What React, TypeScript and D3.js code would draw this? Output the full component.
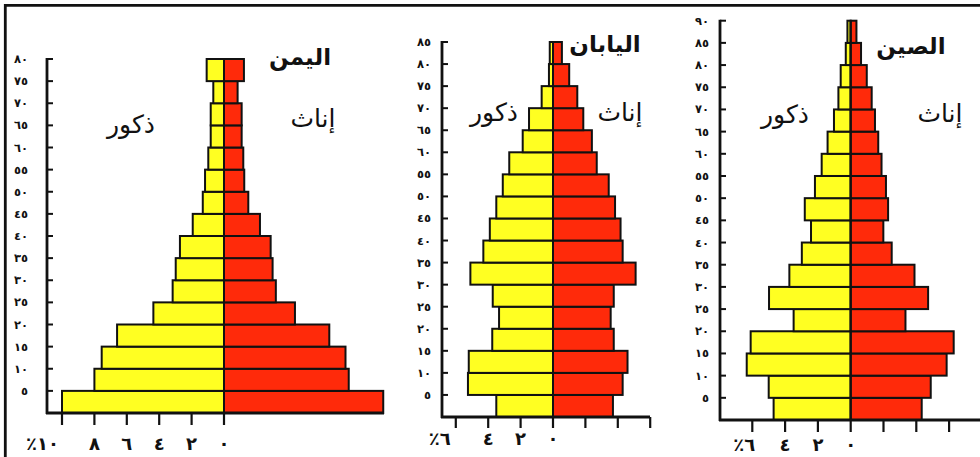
import React from 'react';
import * as d3 from 'd3';

// ---------- DATA ----------
const yemenAges = [0, 5, 10, 15, 20, 25, 30, 35, 40, 45, 50, 55, 60, 65, 70, 75];
const yemenMale = [10.0, 8.0, 7.55, 6.6, 4.36, 3.17, 2.98, 2.72, 1.93, 1.31, 1.17, 0.97, 0.82, 0.82, 0.66, 1.07];
const yemenFemale = [9.83, 7.7, 7.5, 6.5, 4.38, 3.2, 3.0, 2.88, 2.22, 1.5, 1.25, 1.19, 1.09, 1.09, 0.84, 1.23];

const japanAges = [0, 5, 10, 15, 20, 25, 30, 35, 40, 45, 50, 55, 60, 65, 70, 75, 80];
const japanMale = [3.5, 5.25, 5.2, 3.75, 3.33, 3.72, 5.1, 4.3, 3.9, 3.5, 3.1, 2.7, 1.87, 1.48, 0.7, 0.25, 0.2];
const japanFemale = [3.7, 4.3, 4.6, 3.75, 3.56, 3.75, 5.1, 4.3, 4.17, 3.83, 3.44, 2.7, 2.4, 1.87, 1.5, 1.0, 0.55];

const chinaAges = [0, 5, 10, 15, 20, 25, 30, 35, 40, 45, 50, 55, 60, 65, 70, 75, 80, 85];
const chinaMale = [4.7, 5.0, 6.34, 6.1, 3.48, 4.98, 3.74, 2.98, 2.42, 2.8, 2.18, 1.77, 1.41, 1.02, 0.75, 0.61, 0.3, 0.2];
const chinaFemale = [4.33, 4.88, 5.85, 6.28, 3.34, 4.72, 3.89, 2.5, 1.99, 2.28, 2.15, 1.88, 1.68, 1.48, 1.28, 0.98, 0.63, 0.35];

const ageTickValues = [5, 10, 15, 20, 25, 30, 35, 40, 45, 50, 55, 60, 65, 70, 75, 80, 85, 90];
const ageTickLabels = ['٥', '١٠', '١٥', '٢٠', '٢٥', '٣٠', '٣٥', '٤٠', '٤٥', '٥٠', '٥٥', '٦٠', '٦٥', '٧٠', '٧٥', '٨٠', '٨٥', '٩٠'];

const yemenXTicks = [10, 8, 6, 4, 2, 0];
const yemenXLabels = ['٪١٠', '٨', '٦', '٤', '٢', '٠'];
const smallXTicks = [6, 4, 2, 0];
const smallXLabels = ['٪٦', '٤', '٢', '٠'];
const japanRightTicks = [2, 4, 6];
const chinaRightTicks = [2, 4, 6, 8];

const titles = ['اليمن', 'اليابان', 'الصين'];
const maleLabel = 'ذكور';
const femaleLabel = 'إناث';

// ---------- STYLE ----------
const YELLOW = '#FFFF22';
const RED = '#FF2A0A';
const FONT = 'DejaVu Sans, sans-serif';

type Layout = {
  axisX: number;
  yBottom: number;
  yTop: number;
  ageTop: number;
  cx: number;
  ppp: number;
  xAxisEnd: number;
  yLabelGap: number;
  xLabelY: number;
  pctDx: number;
  tickLen: number;
  title: [number, number];
  female: [number, number];
  male: [number, number];
};

type Props = {
  ages: number[];
  male: number[];
  female: number[];
  xTicks: number[];
  xLabels: string[];
  rightTicks: number[];
  title: string;
  L: Layout;
};

function Pyramid({ ages, male, female, xTicks, xLabels, rightTicks, title, L }: Props) {
  const y = d3.scaleLinear().domain([0, L.ageTop]).range([L.yBottom, L.yTop]);
  const xM = d3.scaleLinear().domain([0, 10]).range([L.cx, L.cx - 10 * L.ppp]);
  const xF = d3.scaleLinear().domain([0, 10]).range([L.cx, L.cx + 10 * L.ppp]);
  const band = 5;
  const yTicks = ageTickValues.filter((v) => v <= L.ageTop);
  const topAge = ages[ages.length - 1] + band;
  return (
    <g>
      {ages.map((a, i) => (
        <rect key={'m' + a} x={xM(male[i])} y={y(a + band)} width={xM(0) - xM(male[i])}
          height={y(a) - y(a + band)} fill={YELLOW} stroke="#111" strokeWidth={2} />
      ))}
      {ages.map((a, i) => (
        <rect key={'f' + a} x={xF(0)} y={y(a + band)} width={xF(female[i]) - xF(0)}
          height={y(a) - y(a + band)} fill={RED} stroke="#111" strokeWidth={2} />
      ))}
      <line x1={L.cx} x2={L.cx} y1={y(topAge)} y2={L.yBottom} stroke="#111" strokeWidth={2} />
      {/* y axis */}
      <line x1={L.axisX} x2={L.axisX} y1={L.yTop - 1} y2={L.yBottom + 1} stroke="#111" strokeWidth={2.8} />
      {yTicks.map((t) => (
        <g key={'yt' + t}>
          <line x1={L.axisX} x2={L.axisX + 6} y1={y(t)} y2={y(t)} stroke="#111" strokeWidth={2} />
          <text x={L.axisX - L.yLabelGap} y={y(t) + 4} fontFamily={FONT} fontSize={11.5}
            fontWeight="bold" textAnchor="end" fill="#111">{ageTickLabels[ageTickValues.indexOf(t)]}</text>
        </g>
      ))}
      {/* x axis */}
      <line x1={L.axisX - 1} x2={L.xAxisEnd} y1={L.yBottom} y2={L.yBottom} stroke="#111" strokeWidth={2.8} />
      {xTicks.map((t, i) => (
        <g key={'xt' + t}>
          <line x1={xM(t)} x2={xM(t)} y1={L.yBottom} y2={L.yBottom + L.tickLen} stroke="#111" strokeWidth={2.2} />
          <text x={i === 0 ? xM(t) + L.pctDx : xM(t)} y={L.xLabelY} fontFamily={FONT} fontSize={18}
            fontWeight="bold" textAnchor={i === 0 ? 'end' : 'middle'} fill="#111">{xLabels[i]}</text>
        </g>
      ))}
      {rightTicks.map((t) => (
        <line key={'rt' + t} x1={xF(t)} x2={xF(t)} y1={L.yBottom} y2={L.yBottom + L.tickLen} stroke="#111" strokeWidth={2.2} />
      ))}
      <text x={L.title[0]} y={L.title[1]} fontFamily={FONT} fontSize={23} fontWeight="bold"
        textAnchor="middle" fill="#111">{title}</text>
      <text x={L.female[0]} y={L.female[1]} fontFamily={FONT} fontSize={25}
        textAnchor="middle" fill="#111">{femaleLabel}</text>
      <text x={L.male[0]} y={L.male[1]} fontFamily={FONT} fontSize={25}
        textAnchor="middle" fill="#111">{maleLabel}</text>
    </g>
  );
}

const yemenLayout: Layout = {
  axisX: 47, yBottom: 413, yTop: 59, ageTop: 80, cx: 224, ppp: 16.2, xAxisEnd: 384,
  yLabelGap: 19, xLabelY: 450, pctDx: -3, tickLen: 12,
  title: [300, 65], female: [313, 127], male: [131, 133],
};
const japanLayout: Layout = {
  axisX: 442, yBottom: 417, yTop: 42, ageTop: 85, cx: 553, ppp: 16.2, xAxisEnd: 650,
  yLabelGap: 11, xLabelY: 445, pctDx: -5, tickLen: 11,
  title: [605, 52], female: [620, 121], male: [494, 121],
};
const chinaLayout: Layout = {
  axisX: 720, yBottom: 420, yTop: 20.7, ageTop: 90, cx: 850.7, ppp: 16.4, xAxisEnd: 980,
  yLabelGap: 11, xLabelY: 451, pctDx: 3, tickLen: 12,
  title: [911, 54], female: [940, 122], male: [785, 123],
};

export default function App() {
  return (
    <svg width={980} height={457} viewBox="0 0 980 457"
      style={{ position: 'absolute', left: 0, top: 0, background: '#fff' }}>
      <rect x={0} y={0} width={980} height={457} fill="#fff" />
      <line x1={5.3} x2={980} y1={5.3} y2={5.3} stroke="#111" strokeWidth={2.8} />
      <line x1={5.3} x2={5.3} y1={4} y2={457} stroke="#111" strokeWidth={2.8} />
      <Pyramid ages={yemenAges} male={yemenMale} female={yemenFemale} xTicks={yemenXTicks}
        xLabels={yemenXLabels} rightTicks={[]} title={titles[0]} L={yemenLayout} />
      <Pyramid ages={japanAges} male={japanMale} female={japanFemale} xTicks={smallXTicks}
        xLabels={smallXLabels} rightTicks={japanRightTicks} title={titles[1]} L={japanLayout} />
      <Pyramid ages={chinaAges} male={chinaMale} female={chinaFemale} xTicks={smallXTicks}
        xLabels={smallXLabels} rightTicks={chinaRightTicks} title={titles[2]} L={chinaLayout} />
    </svg>
  );
}
